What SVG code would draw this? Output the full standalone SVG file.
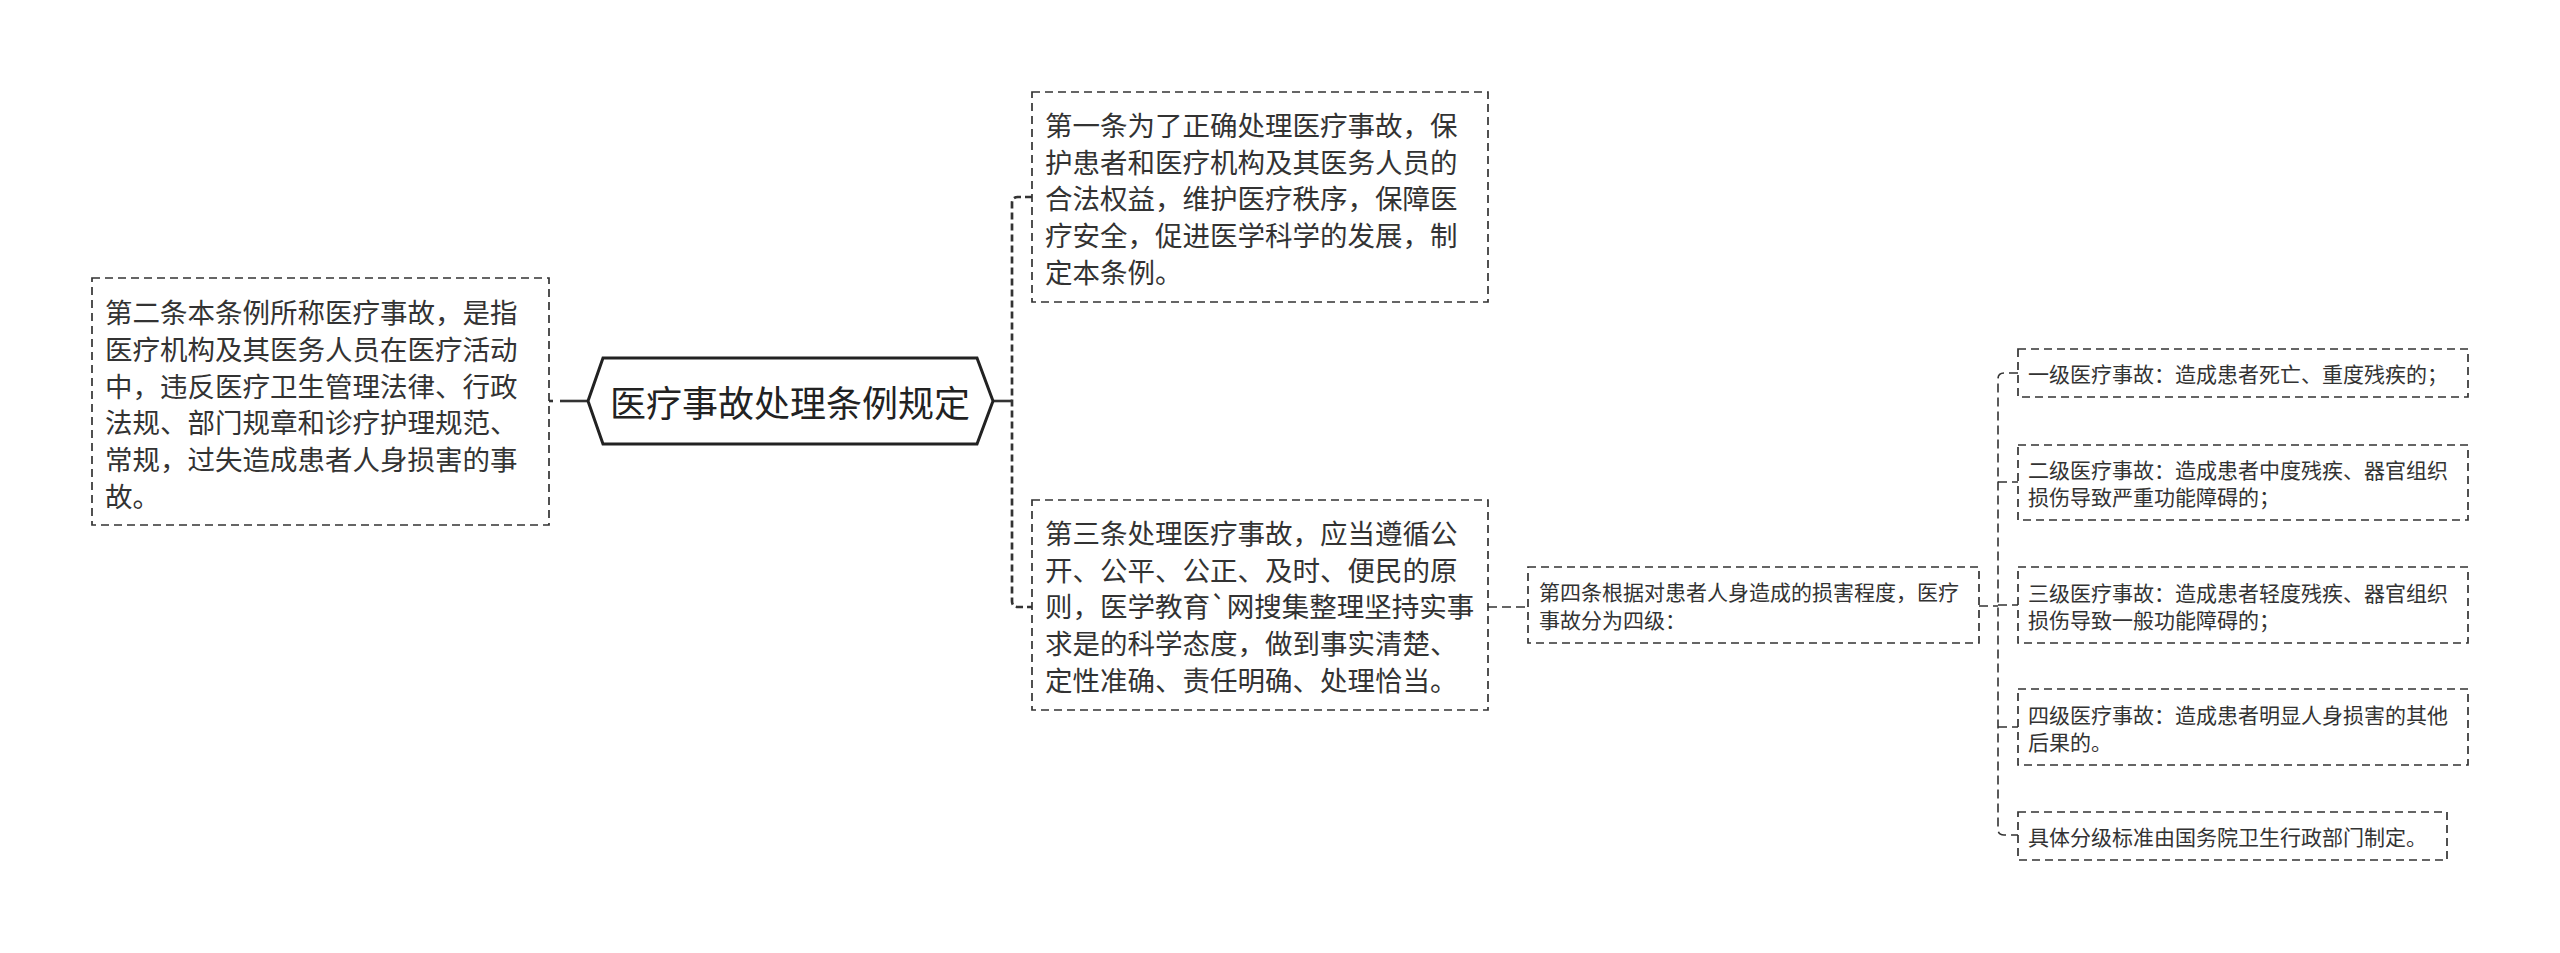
<svg xmlns="http://www.w3.org/2000/svg" width="2560" height="953" viewBox="0 0 2560 953">
<style>
.box{fill:#fff;stroke:#333;stroke-width:1.7;stroke-dasharray:8 5}
.t{font-family:"Noto Sans CJK SC","Noto Sans CJK JP",sans-serif;fill:#333;dominant-baseline:central}
.big{font-size:27.5px}
.small{font-size:21px}
.title{font-size:36px;text-anchor:middle;fill:#222}
.c1{fill:none;stroke:#333;stroke-width:2.7;stroke-dasharray:7 4}
.c2{fill:none;stroke:#333;stroke-width:1.6;stroke-dasharray:9 5}
.solid{fill:none;stroke:#333;stroke-width:2.6}
</style>
<rect width="2560" height="953" fill="#fff"/>
<g id="connectors">
<line class="solid" x1="549" y1="401" x2="553" y2="401"/>
<line class="solid" x1="560" y1="401" x2="590" y2="401"/>
<line class="solid" x1="992" y1="401" x2="1012" y2="401"/>
<path class="c1" d="M1032,197 H1018 Q1012,197 1012,203 V601 Q1012,607 1018,607 H1032"/>
<line class="c2" x1="1488" y1="607" x2="1528" y2="607"/>
<line class="c2" x1="1979" y1="606" x2="1998" y2="606"/>
<path class="c2" d="M2018,373 H2004 Q1998,373 1998,379 V829 Q1998,835 2004,835 H2018"/>
<line class="c2" x1="1998" y1="482" x2="2018" y2="482"/>
<line class="c2" x1="1998" y1="605" x2="2018" y2="605"/>
<line class="c2" x1="1998" y1="727" x2="2018" y2="727"/>
</g>
<g id="root">
<polygon points="588,401 603,358 977,358 993,401 977,444 603,444" fill="#fff" stroke="#222" stroke-width="3"/>
<text class="t title" x="790" y="401">医疗事故处理条例规定</text>
</g>
<g id="node-article2">
<rect class="box" x="92" y="278" width="457" height="247"/>
<text class="t big" x="105" y="311">第二条本条例所称医疗事故，是指</text>
<text class="t big" x="105" y="348">医疗机构及其医务人员在医疗活动</text>
<text class="t big" x="105" y="385">中，违反医疗卫生管理法律、行政</text>
<text class="t big" x="105" y="421">法规、部门规章和诊疗护理规范、</text>
<text class="t big" x="105" y="458">常规，过失造成患者人身损害的事</text>
<text class="t big" x="105" y="495">故。</text>
</g>
<g id="node-article1">
<rect class="box" x="1032" y="92" width="456" height="210"/>
<text class="t big" x="1045" y="124">第一条为了正确处理医疗事故，保</text>
<text class="t big" x="1045" y="161">护患者和医疗机构及其医务人员的</text>
<text class="t big" x="1045" y="197">合法权益，维护医疗秩序，保障医</text>
<text class="t big" x="1045" y="234">疗安全，促进医学科学的发展，制</text>
<text class="t big" x="1045" y="271">定本条例。</text>
</g>
<g id="node-article3">
<rect class="box" x="1032" y="500" width="456" height="210"/>
<text class="t big" x="1045" y="532">第三条处理医疗事故，应当遵循公</text>
<text class="t big" x="1045" y="569">开、公平、公正、及时、便民的原</text>
<text class="t big" x="1045" y="605">则，医学教育`网搜集整理坚持实事</text>
<text class="t big" x="1045" y="642">求是的科学态度，做到事实清楚、</text>
<text class="t big" x="1045" y="679">定性准确、责任明确、处理恰当。</text>
</g>
<g id="node-article4">
<rect class="box" x="1528" y="567" width="451" height="76"/>
<text class="t small" x="1539" y="591">第四条根据对患者人身造成的损害程度，医疗</text>
<text class="t small" x="1539" y="619">事故分为四级：</text>
</g>
<g id="node-level1">
<rect class="box" x="2018" y="349" width="450" height="48"/>
<text class="t small" x="2028" y="373">一级医疗事故：造成患者死亡、重度残疾的；</text>
</g>
<g id="node-level2">
<rect class="box" x="2018" y="445" width="450" height="75"/>
<text class="t small" x="2028" y="469">二级医疗事故：造成患者中度残疾、器官组织</text>
<text class="t small" x="2028" y="496">损伤导致严重功能障碍的；</text>
</g>
<g id="node-level3">
<rect class="box" x="2018" y="567" width="450" height="76"/>
<text class="t small" x="2028" y="592">三级医疗事故：造成患者轻度残疾、器官组织</text>
<text class="t small" x="2028" y="619">损伤导致一般功能障碍的；</text>
</g>
<g id="node-level4">
<rect class="box" x="2018" y="689" width="450" height="76"/>
<text class="t small" x="2028" y="714">四级医疗事故：造成患者明显人身损害的其他</text>
<text class="t small" x="2028" y="741">后果的。</text>
</g>
<g id="node-standard">
<rect class="box" x="2018" y="812" width="429" height="48"/>
<text class="t small" x="2028" y="836">具体分级标准由国务院卫生行政部门制定。</text>
</g>
</svg>
